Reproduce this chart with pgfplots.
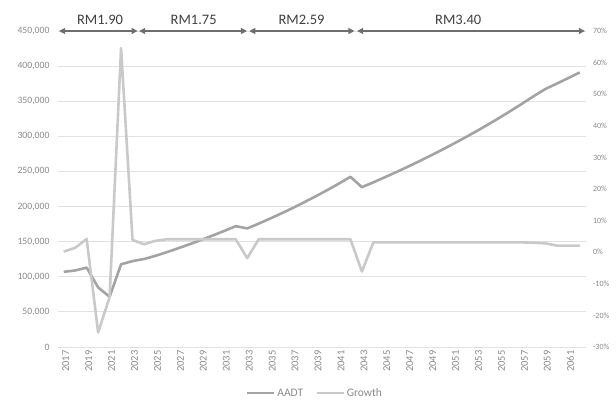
\documentclass[border=0pt]{standalone}
\usepackage{pgfplots}
\pgfplotsset{compat=1.18}
\usepackage{pgfplotstable}
\usepackage{fontspec}
\setmainfont{Carlito}
\usetikzlibrary{arrows.meta}

\definecolor{aadt}{HTML}{A3A3A3}
\definecolor{growth}{HTML}{C9C9C9}
\definecolor{gridc}{HTML}{E2E2E2}
\definecolor{ticktext}{HTML}{8A8A8A}
\definecolor{arrowc}{HTML}{6E6E6E}
\definecolor{rmtext}{HTML}{404040}

\pgfplotsset{/pgf/number format/assume math mode=true}

% traffic forecast: index, year, annual average daily traffic, growth (%)
\pgfplotstableread{
idx year aadt growth
0  2017 107000 0.2
1  2018 109000 1.4
2  2019 113000 4.2
3  2020 84800 -25.4
4  2021 71500 -14.2
5  2022 117800 64.6
6  2023 122300 3.9
7  2024 125300 2.5
8  2025 129800 3.6
9  2026 135100 4.1
10 2027 140700 4.1
11 2028 146500 4.1
12 2029 152500 4.1
13 2030 158800 4.1
14 2031 165300 4.1
15 2032 172100 4.1
16 2033 168800 -1.9
17 2034 175700 4.1
18 2035 182900 4.1
19 2036 190400 4.1
20 2037 198200 4.1
21 2038 206400 4.1
22 2039 214800 4.1
23 2040 223600 4.1
24 2041 232800 4.1
25 2042 242400 4.1
26 2043 227600 -6.1
27 2044 234500 3.1
28 2045 241700 3.1
29 2046 249100 3.1
30 2047 256700 3.1
31 2048 264500 3.1
32 2049 272600 3.1
33 2050 280900 3.1
34 2051 289500 3.1
35 2052 298300 3.1
36 2053 307400 3.1
37 2054 316800 3.1
38 2055 326500 3.1
39 2056 336500 3.1
40 2057 346800 3.1
41 2058 357400 3.0
42 2059 367400 2.8
43 2060 375100 2.1
44 2061 383000 2.1
45 2062 391000 2.1
}\traffic

\pgfplotsset{
  frame/.style={
    at={(58bp,54bp)}, anchor=south west,
    scale only axis, width=527.5bp, height=316bp,
    xmin=-0.5, xmax=45.5,
    axis line style={draw=none},
    tick style={draw=none},
    clip=false,
  },
}

\begin{document}
\begin{tikzpicture}
\path[use as bounding box] (0,0) rectangle (616bp,401bp);

\begin{axis}[
  frame,
  ymin=0, ymax=450000,
  ytick={0,50000,...,450000},
  ymajorgrids,
  grid style={gridc, line width=0.9bp},
  scaled y ticks=false,
  yticklabel style={/pgf/number format/fixed, /pgf/number format/1000 sep={,},
    font=\fontsize{9.7bp}{11bp}\selectfont, text=ticktext, xshift=-5bp},
  xtick={0,2,...,44},
  xticklabels={2017,2019,2021,2023,2025,2027,2029,2031,2033,2035,2037,2039,
    2041,2043,2045,2047,2049,2051,2053,2055,2057,2059,2061},
  xticklabel style={rotate=90, anchor=east, font=\fontsize{10.5bp}{12bp}\selectfont,
    text=ticktext, yshift=-2bp},
]
\addplot[aadt, line width=2.6bp, line join=round] table[x=idx, y=aadt] {\traffic};

% toll rate periods
\tikzset{period/.style={arrowc, line width=1.1bp,
  {Triangle[length=6bp,width=6bp]}-{Triangle[length=6bp,width=6bp]}}}
\draw[period] (-0.41,450000) -- (6.44,450000);
\draw[period] (6.58,450000) -- (15.98,450000);
\draw[period] (16.18,450000) -- (25.35,450000);
\draw[period] (25.59,450000) -- (45.44,450000);
\tikzset{rate/.style={font=\fontsize{14.5bp}{16bp}\selectfont, text=rmtext, yshift=11.5bp}}
\node[rate] at (3.17,450000) {RM1.90};
\node[rate] at (11.33,450000) {RM1.75};
\node[rate] at (20.74,450000) {RM2.59};
\node[rate] at (34.40,450000) {RM3.40};
\end{axis}

\begin{axis}[
  frame,
  ymin=-30, ymax=70,
  ytick={-30,-20,...,70},
  axis y line*=right,
  axis x line=none,
  yticklabel={\pgfmathprintnumber{\tick}\%},
  yticklabel style={font=\fontsize{8bp}{9bp}\selectfont, text=ticktext, xshift=4bp},
  legend columns=2,
  legend style={draw=none, fill=none, at={(0.487,-0.146)}, anchor=center,
    font=\fontsize{11.5bp}{13bp}\selectfont, text=ticktext,
    /tikz/every even column/.append style={column sep=10bp}},
  legend image code/.code={\draw[#1] (0bp,0bp) -- (27bp,0bp);},
]
\addlegendimage{aadt, line width=2.6bp}
\addlegendentry{AADT}
\addplot[growth, line width=2.6bp, line join=round] table[x=idx, y=growth] {\traffic};
\addlegendentry{Growth}
\end{axis}
\end{tikzpicture}
\end{document}
